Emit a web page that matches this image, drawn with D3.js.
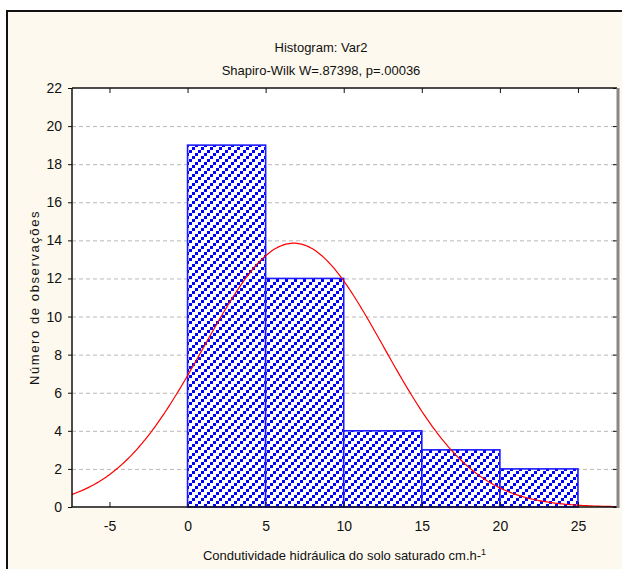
<!DOCTYPE html>
<html>
<head>
<meta charset="utf-8">
<script src="https://cdn.jsdelivr.net/npm/d3@7"></script>
<style>
  html, body { margin: 0; padding: 0; background: #ffffff; }
  svg text { font-family: "Liberation Sans", Arial, sans-serif; fill: #111; }
</style>
</head>
<body>
<svg id="chart" width="622" height="569"></svg>
<script>
// Histogram bins (lower edge, upper edge) and observation counts
const binStarts = [0, 5, 10, 15, 20];
const binEnds   = [5, 10, 15, 20, 25];
const counts    = [19, 12, 4, 3, 2];

// Axis ticks
const xTicks = [-5, 0, 5, 10, 15, 20, 25];
const yTicks = [0, 2, 4, 6, 8, 10, 12, 14, 16, 18, 20, 22];

// Fitted normal distribution parameters
const fitMean = 6.8;
const fitSd = 5.76;

const title = "Histogram: Var2";
const subtitle = "Shapiro-Wilk W=.87398, p=.00036";
const xLabel = "Condutividade hidráulica do solo saturado cm.h-";
const yLabel = "Número de observações";

const svg = d3.select("#chart");
const W = 622, H = 569;
const plot = { left: 72, right: 617, top: 88, bottom: 507 };

// Graph window background and frame
svg.append("rect").attr("x", 7).attr("y", 11).attr("width", W + 10).attr("height", H + 10)
  .attr("fill", "#fdf9ee").attr("stroke", "#111").attr("stroke-width", 2);

const x = d3.scaleLinear().domain([-7.4, 27.5]).range([plot.left, plot.right]);
const y = d3.scaleLinear().domain([0, 22]).range([plot.bottom, plot.top]);

// Dotted diagonal hatch for the bars
const defs = svg.append("defs");
const tile = 9;
const pat = defs.append("pattern").attr("id", "hatch").attr("patternUnits", "userSpaceOnUse")
  .attr("width", tile).attr("height", tile);
pat.append("rect").attr("width", tile).attr("height", tile).attr("fill", "#fff");
[[0, 6], [3, 3], [6, 0]].forEach(([px, py]) => {
  pat.append("rect").attr("x", px).attr("y", py).attr("width", 3).attr("height", 3).attr("fill", "#0000ff");
});

defs.append("clipPath").attr("id", "plotclip").append("rect")
  .attr("x", plot.left).attr("y", plot.top)
  .attr("width", plot.right - plot.left).attr("height", plot.bottom - plot.top);

// Plot area
svg.append("rect").attr("x", plot.left).attr("y", plot.top)
  .attr("width", plot.right - plot.left).attr("height", plot.bottom - plot.top).attr("fill", "#fff");

// Horizontal dashed grid
svg.append("g").selectAll("line").data(yTicks.filter(t => t > 0 && t < 22)).join("line")
  .attr("x1", plot.left).attr("x2", plot.right)
  .attr("y1", d => y(d) + 0.5).attr("y2", d => y(d) + 0.5)
  .attr("stroke", "#b8b8b8").attr("stroke-dasharray", "4,3");

// Bars
const bins = binStarts.map((s, i) => ({ x0: s, x1: binEnds[i], n: counts[i] }));
svg.append("g").selectAll("rect").data(bins).join("rect")
  .attr("x", d => x(d.x0)).attr("y", d => y(d.n))
  .attr("width", d => x(d.x1) - x(d.x0)).attr("height", d => y(0) - y(d.n))
  .attr("fill", "url(#hatch)").attr("stroke", "#1a1aff").attr("stroke-width", 1.6);

// Fitted normal curve, scaled to counts per bin
const n = d3.sum(counts);
const bw = binEnds[0] - binStarts[0];
const pdf = v => n * bw / (fitSd * Math.sqrt(2 * Math.PI)) * Math.exp(-0.5 * ((v - fitMean) / fitSd) ** 2);
const xs = d3.range(-7.4, 27.51, 0.1);
svg.append("path").datum(xs)
  .attr("clip-path", "url(#plotclip)")
  .attr("d", d3.line().x(v => x(v)).y(v => y(pdf(v))))
  .attr("fill", "none").attr("stroke", "#ff0000").attr("stroke-width", 1.2);

// Axes
const fmt = d => String(d);
const axisBottom = svg.append("g").attr("transform", `translate(0,${plot.bottom})`)
  .call(d3.axisBottom(x).tickValues(xTicks).tickSize(-5).tickPadding(14).tickFormat(fmt));
const axisTop = svg.append("g").attr("transform", `translate(0,${plot.top})`)
  .call(d3.axisTop(x).tickValues(xTicks).tickSize(-5).tickFormat(""));
const axisLeft = svg.append("g").attr("transform", `translate(${plot.left},0)`)
  .call(d3.axisLeft(y).tickValues(yTicks).tickSize(4).tickPadding(6).tickFormat(fmt));
const axisRight = svg.append("g").attr("transform", `translate(${plot.right},0)`)
  .call(d3.axisRight(y).tickValues(yTicks).tickSize(-4).tickFormat(""));

[axisBottom, axisTop, axisLeft, axisRight].forEach(g => {
  g.select(".domain").remove();
  g.selectAll(".tick line").attr("stroke", "#111");
  g.selectAll("text").attr("font-size", 14).attr("fill", "#111")
    .attr("font-family", "Liberation Sans, Arial, sans-serif");
});

// Plot frame
svg.append("line").attr("x1", plot.left).attr("x2", plot.right).attr("y1", plot.top).attr("y2", plot.top)
  .attr("stroke", "#111").attr("stroke-width", 1.5);
svg.append("line").attr("x1", plot.left).attr("x2", plot.right).attr("y1", plot.bottom).attr("y2", plot.bottom)
  .attr("stroke", "#111").attr("stroke-width", 1.5);
svg.append("line").attr("x1", plot.left).attr("x2", plot.left).attr("y1", plot.top).attr("y2", plot.bottom)
  .attr("stroke", "#111").attr("stroke-width", 1.5);
svg.append("line").attr("x1", plot.right + 1).attr("x2", plot.right + 1).attr("y1", plot.top).attr("y2", plot.bottom + 1)
  .attr("stroke", "#888").attr("stroke-width", 3);

// Titles
svg.append("text").attr("x", 321).attr("y", 52).attr("text-anchor", "middle")
  .attr("font-size", 13).text(title);
svg.append("text").attr("x", 321).attr("y", 75).attr("text-anchor", "middle")
  .attr("font-size", 13).text(subtitle);

// Axis titles
const xl = svg.append("text").attr("x", (plot.left + plot.right) / 2).attr("y", 560)
  .attr("text-anchor", "middle").attr("font-size", 13);
xl.append("tspan").text(xLabel);
xl.append("tspan").attr("dy", -5).attr("font-size", 9).text("1");

svg.append("text").attr("transform", `translate(39,${(plot.top + plot.bottom) / 2}) rotate(-90)`)
  .attr("text-anchor", "middle").attr("font-size", 13).attr("letter-spacing", 1.6).text(yLabel);
</script>
</body>
</html>
